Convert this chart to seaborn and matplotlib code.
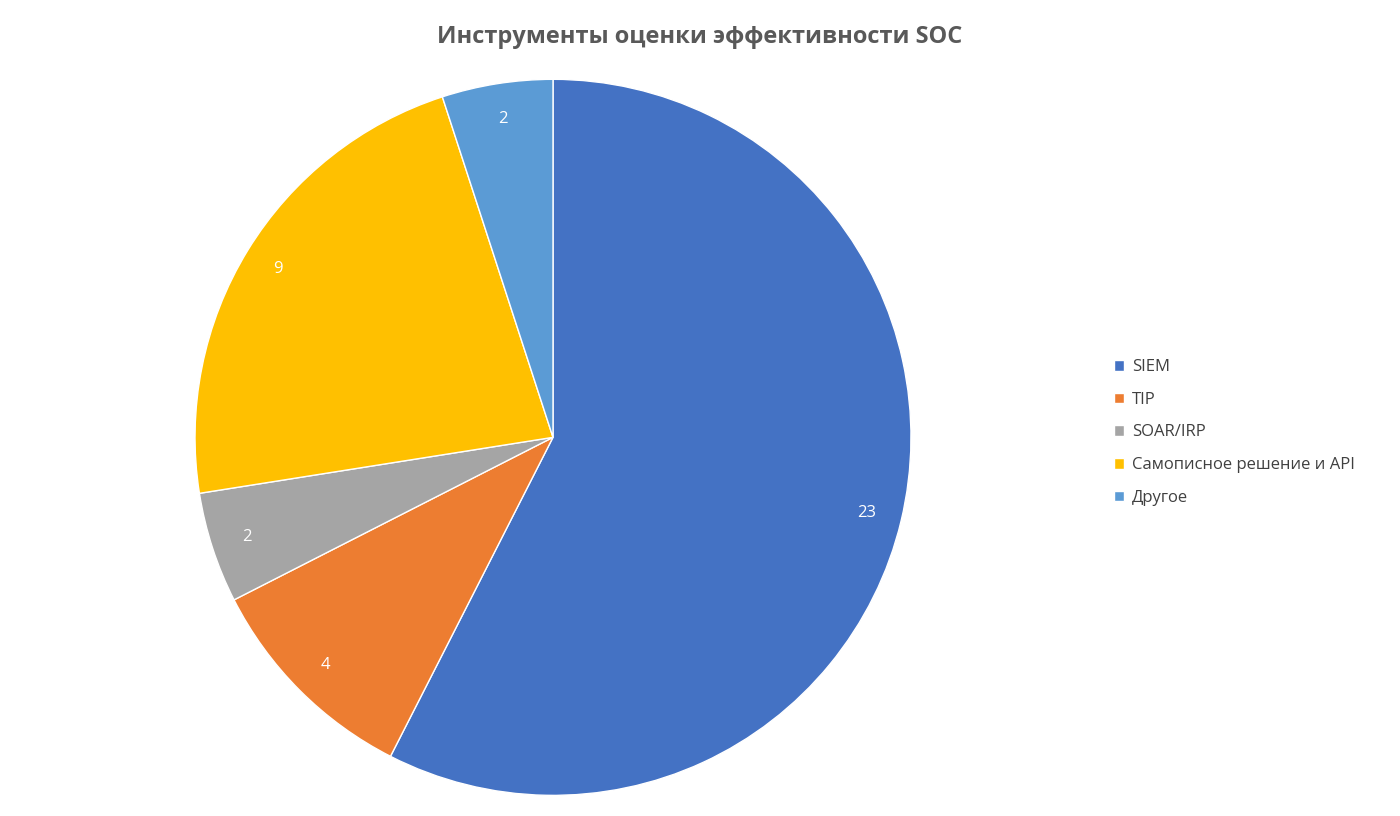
import matplotlib.pyplot as plt
import seaborn as sns

# Data
labels = ["SIEM", "TIP", "SOAR/IRP", "Самописное решение и API", "Другое"]
values = [23, 4, 2, 9, 2]
colors = ["#4472C4", "#ED7D31", "#A5A5A5", "#FFC000", "#5B9BD5"]

sns.set_theme(style="white")
plt.rcParams["font.family"] = ["Open Sans", "DejaVu Sans"]

fig = plt.figure(figsize=(14, 8.16), dpi=100)
ax = fig.add_axes([0.1393, 0.0253, 0.5114, 0.8775])

wedges, texts, autotexts = ax.pie(
    values,
    colors=colors,
    startangle=90,
    counterclock=False,
    autopct=lambda p: f"{round(p * sum(values) / 100):d}",
    pctdistance=0.9,
    wedgeprops=dict(edgecolor="white", linewidth=1),
    textprops=dict(color="white", fontsize=12),
)
ax.set_xlim(-1, 1)
ax.set_ylim(-1, 1)
ax.set_aspect("auto")

fig.text(0.5, 0.955, "Инструменты оценки эффективности SOC", ha="center", va="center",
         fontsize=17, fontweight="bold", color="#595959")

fig.legend(wedges, labels, loc="center left", bbox_to_anchor=(0.785, 0.47),
           frameon=False, fontsize=12, handlelength=0.6, handleheight=0.6,
           labelspacing=1.0, handletextpad=0.5, labelcolor="#404040")

fig.savefig("out.png", dpi=100)
